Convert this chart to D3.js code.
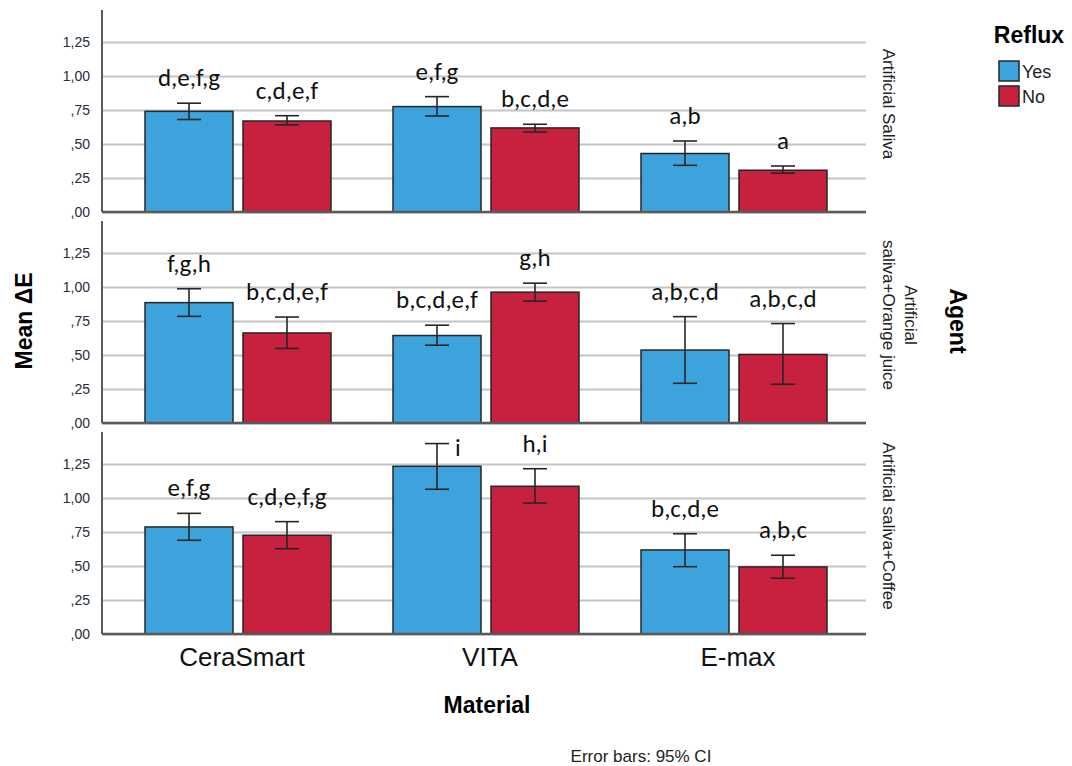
<!DOCTYPE html>
<html>
<head>
<meta charset="utf-8">
<script src="https://cdn.jsdelivr.net/npm/d3@7"></script>
<style>
  body { margin: 0; background: #fff; }
  svg { display: block; }
</style>
</head>
<body>
<div id="chart"></div>
<script>
// dados
const materials = ['CeraSmart', 'VITA', 'E-max'];
const reflux = ['Yes', 'No'];
const agentLines = [['Artificial Saliva'], ['Artificial', 'saliva+Orange juice'], ['Artificial saliva+Coffee']];

const yTicks = [0, 0.25, 0.5, 0.75, 1, 1.25];
const yTickLabels = [',00', ',25', ',50', ',75', '1,00', '1,25'];

// uma linha por agente, uma coluna por material
const meanYes = [[0.74, 0.775, 0.43], [0.885, 0.643, 0.536], [0.787, 1.233, 0.618]];
const meanNo = [[0.669, 0.618, 0.307], [0.662, 0.962, 0.504], [0.726, 1.086, 0.493]];
const lowYes = [[0.68, 0.706, 0.343], [0.784, 0.572, 0.292], [0.689, 1.064, 0.495]];
const highYes = [[0.80, 0.848, 0.522], [0.987, 0.719, 0.782], [0.887, 1.40, 0.737]];
const lowNo = [[0.64, 0.588, 0.285], [0.548, 0.896, 0.285], [0.627, 0.963, 0.41]];
const highNo = [[0.708, 0.645, 0.338], [0.779, 1.028, 0.731], [0.826, 1.215, 0.579]];
const lettersYes = [['d,e,f,g', 'e,f,g', 'a,b'], ['f,g,h', 'b,c,d,e,f', 'a,b,c,d'], ['e,f,g', 'i', 'b,c,d,e']];
const lettersNo = [['c,d,e,f', 'b,c,d,e', 'a'], ['b,c,d,e,f', 'g,h', 'a,b,c,d'], ['c,d,e,f,g', 'h,i', 'a,b,c']];

const largura = 1072, altura = 766;
const cores = { Yes: '#3ca3dc', No: '#c8213f' };
const arial = '"Liberation Sans", Arial, sans-serif';
const calibri = 'Carlito, Lato, sans-serif';

const svg = d3.select('#chart')
    .append('svg')
    .attr('width', largura)
    .attr('height', altura);

const left = 102, right = 866;
const panelTop = 10, panelH = 202, panelGap = 9;
const yMax = 1.485;

const x = d3.scaleBand()
    .domain(materials)
    .range([114, 858])
    .paddingInner(0.25)
    .paddingOuter(0.125);

const xInner = d3.scaleBand()
    .domain(reflux)
    .range([0, x.bandwidth()])
    .paddingInner(0.102);

agentLines.forEach((lines, a) => {
    const top = panelTop + a * (panelH + panelGap);
    const y = d3.scaleLinear().domain([0, yMax]).range([top + panelH, top]);
    const g = svg.append('g').attr('class', 'painel');

    // grade e rótulos do eixo
    const axis = g.append('g')
        .attr('transform', `translate(${left},0)`)
        .call(d3.axisLeft(y).tickValues(yTicks)
            .tickFormat((d, i) => yTickLabels[i])
            .tickSize(-(right - left))
            .tickPadding(12));
    axis.select('.domain').remove();
    axis.selectAll('.tick line').attr('stroke', '#c4c4c4').attr('stroke-width', 2);
    axis.selectAll('.tick text')
        .attr('fill', '#2a2a40')
        .style('font-family', arial)
        .style('font-size', '14px');

    const rows = [];
    materials.forEach((m, i) => {
        rows.push({ m, r: 'Yes', v: meanYes[a][i], lo: lowYes[a][i], hi: highYes[a][i], txt: lettersYes[a][i] });
        rows.push({ m, r: 'No', v: meanNo[a][i], lo: lowNo[a][i], hi: highNo[a][i], txt: lettersNo[a][i] });
    });
    const cx = d => x(d.m) + xInner(d.r) + xInner.bandwidth() / 2;

    g.selectAll('rect.barra')
        .data(rows)
        .enter()
        .append('rect')
        .attr('class', 'barra')
        .attr('x', d => x(d.m) + xInner(d.r))
        .attr('width', xInner.bandwidth())
        .attr('y', d => y(d.v))
        .attr('height', d => y(0) - y(d.v))
        .attr('fill', d => cores[d.r])
        .attr('stroke', '#262626')
        .attr('stroke-width', 1.5);

    // barras de erro
    const err = g.selectAll('g.erro').data(rows).enter().append('g').attr('class', 'erro')
        .attr('stroke', '#262626').attr('stroke-width', 1.6);
    err.append('line').attr('x1', cx).attr('x2', cx).attr('y1', d => y(d.lo)).attr('y2', d => y(d.hi));
    err.append('line').attr('x1', d => cx(d) - 12).attr('x2', d => cx(d) + 12).attr('y1', d => y(d.hi)).attr('y2', d => y(d.hi));
    err.append('line').attr('x1', d => cx(d) - 12).attr('x2', d => cx(d) + 12).attr('y1', d => y(d.lo)).attr('y2', d => y(d.lo));

    // letras de significância
    g.selectAll('text.letras')
        .data(rows)
        .enter()
        .append('text')
        .attr('class', 'letras')
        .each(function (d) {
            const base = y(d.hi) - 17;
            const fora = base - 17 < top;
            d3.select(this)
                .attr('x', fora ? cx(d) + 18 : cx(d))
                .attr('y', fora ? y(d.hi) + 12 : base)
                .attr('text-anchor', fora ? 'start' : 'middle');
        })
        .style('font-family', calibri)
        .style('font-size', '25px')
        .attr('fill', '#111')
        .text(d => d.txt);

    // eixos
    g.append('line').attr('x1', left).attr('x2', left).attr('y1', top).attr('y2', y(0))
        .attr('stroke', '#5a5a5a').attr('stroke-width', 2);
    g.append('line').attr('x1', left).attr('x2', right).attr('y1', y(0)).attr('y2', y(0))
        .attr('stroke', '#5a5a5a').attr('stroke-width', 2.5);

    // rótulo do agente à direita
    const mid = top + panelH / 2 - 7;
    lines.forEach((t, k) => {
        const bx = 883 + (lines.length - 1 - k) * 22;
        g.append('text')
            .attr('transform', `translate(${bx},${mid}) rotate(90)`)
            .attr('text-anchor', 'middle')
            .style('font-family', arial)
            .style('font-size', '17px')
            .attr('fill', '#222')
            .text(t);
    });
});

// rótulos do eixo x
svg.selectAll('text.material')
    .data(materials)
    .enter()
    .append('text')
    .attr('class', 'material')
    .attr('x', d => x(d) + x.bandwidth() / 2 + 4)
    .attr('y', 666)
    .attr('text-anchor', 'middle')
    .style('font-family', arial)
    .style('font-size', '26px')
    .attr('fill', '#111')
    .text(d => d);

svg.append('text')
    .attr('x', 487).attr('y', 713)
    .attr('text-anchor', 'middle')
    .style('font-family', arial).style('font-size', '23px').style('font-weight', 'bold')
    .text('Material');

svg.append('text')
    .attr('transform', 'translate(32,321) rotate(-90)')
    .attr('text-anchor', 'middle')
    .style('font-family', arial).style('font-size', '23px').style('font-weight', 'bold')
    .text('Mean ΔE');

svg.append('text')
    .attr('transform', 'translate(950,321) rotate(90)')
    .attr('text-anchor', 'middle')
    .style('font-family', arial).style('font-size', '23px').style('font-weight', 'bold')
    .text('Agent');

svg.append('text')
    .attr('x', 641).attr('y', 762)
    .attr('text-anchor', 'middle')
    .style('font-family', arial).style('font-size', '17px')
    .attr('fill', '#222')
    .text('Error bars: 95% CI');

// legenda
const legenda = svg.append('g').attr('transform', 'translate(999,0)');
legenda.append('text')
    .attr('x', 30).attr('y', 43)
    .attr('text-anchor', 'middle')
    .style('font-family', arial).style('font-size', '23px').style('font-weight', 'bold')
    .text('Reflux');
reflux.forEach((r, i) => {
    legenda.append('rect')
        .attr('x', 0).attr('y', 61 + i * 25)
        .attr('width', 20).attr('height', 20)
        .attr('fill', cores[r]).attr('stroke', '#262626').attr('stroke-width', 1.5);
    legenda.append('text')
        .attr('x', 23).attr('y', 78 + i * 25)
        .style('font-family', arial).style('font-size', '18px')
        .attr('fill', '#222')
        .text(r);
});
</script>
</body>
</html>
